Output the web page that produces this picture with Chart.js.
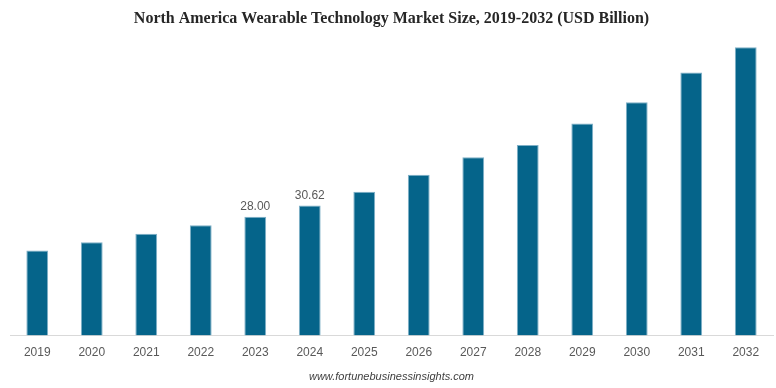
<!DOCTYPE html>
<html>
<head>
<meta charset="utf-8">
<title>North America Wearable Technology Market Size</title>
<script src="https://cdn.jsdelivr.net/npm/chart.js@4.4.1/dist/chart.umd.min.js"></script>
<style>
  html, body { margin: 0; padding: 0; background: #ffffff; }
  #wrap { position: relative; width: 776px; height: 388px; }
</style>
</head>
<body>
<div id="wrap"><canvas id="marketChart"></canvas></div>
<script>
// ---- data ----
const years  = ['2019', '2020', '2021', '2022', '2023', '2024', '2025',
                '2026', '2027', '2028', '2029', '2030', '2031', '2032'];
const market = [20.0, 22.0, 24.0, 26.0, 28.00, 30.62, 33.9,
                37.9, 42.0, 44.9, 50.0, 55.0, 62.0, 68.0];
const labelledYears = ['2023', '2024'];   // only these bars carry a value

const TITLE  = 'North America Wearable Technology Market Size, 2019-2032 (USD Billion)';
const SOURCE = 'www.fortunebusinessinsights.com';

// value labels above the chosen bars
const valueLabels = {
  id: 'valueLabels',
  afterDatasetsDraw(chart) {
    const { ctx } = chart;
    const meta = chart.getDatasetMeta(0);
    ctx.save();
    ctx.font = '12px Arial, "Liberation Sans", sans-serif';
    ctx.fillStyle = '#595959';
    ctx.textAlign = 'center';
    ctx.textBaseline = 'bottom';
    meta.data.forEach((bar, i) => {
      if (!labelledYears.includes(years[i])) return;
      ctx.fillText(market[i].toFixed(2), bar.x, bar.y - 4);
    });
    ctx.restore();
  }
};

const ctx = document.getElementById('marketChart').getContext('2d');
new Chart(ctx, {
  type: 'bar',
  data: {
    labels: years,
    datasets: [{
      data: market,
      backgroundColor: '#05648a',
      borderColor: '#7fb0c7',
      borderWidth: 1,
      barPercentage: 0.4,
      categoryPercentage: 1.0
    }]
  },
  options: {
    responsive: true,
    maintainAspectRatio: false,
    animation: false,
    layout: { padding: { left: 10, right: 3, top: 0, bottom: 4 } },
    plugins: {
      legend: { display: false },
      tooltip: { enabled: false },
      title: {
        display: true,
        text: TITLE,
        color: '#262626',
        font: { family: '"Times New Roman", "Liberation Serif", serif', size: 16, weight: 'bold' },
        padding: { top: 9, bottom: 2 }
      },
      subtitle: {
        display: true,
        position: 'bottom',
        text: SOURCE,
        color: '#404040',
        font: { family: 'Arial, "Liberation Sans", sans-serif', size: 11, style: 'italic' },
        padding: { top: 1, bottom: 0 }
      }
    },
    scales: {
      x: {
        grid: { display: false, drawTicks: false },
        border: { display: true, color: '#d9d9d9', width: 1 },
        ticks: {
          color: '#595959',
          padding: 10,
          font: { family: 'Arial, "Liberation Sans", sans-serif', size: 12 },
          maxRotation: 0,
          autoSkip: false
        }
      },
      y: {
        display: false,
        min: 0,
        max: 72
      }
    }
  },
  plugins: [valueLabels]
});
</script>
</body>
</html>
